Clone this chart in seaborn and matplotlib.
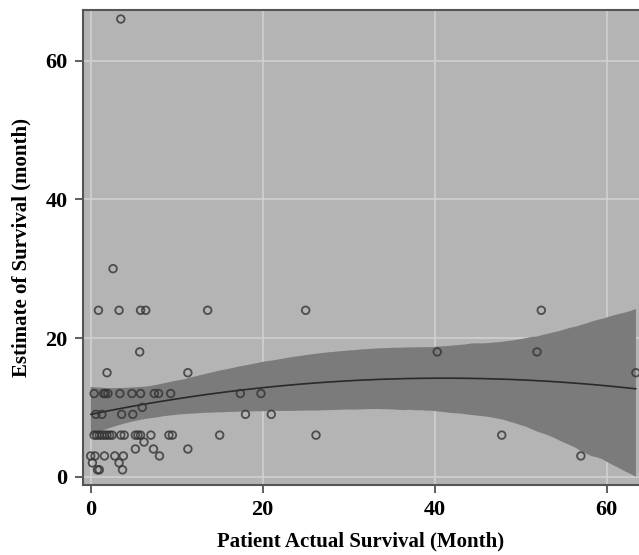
import matplotlib
matplotlib.use("Agg")
import matplotlib.pyplot as plt
import seaborn as sns
import pandas as pd

actual = [3.5,
          2.6,
          0.9, 3.3, 5.8, 6.4, 13.6, 25.0, 52.4,
          5.7, 40.3, 51.9,
          1.9, 11.3, 63.4,
          0.4, 1.5, 1.7, 2.0, 3.4, 4.8, 5.8, 7.4, 7.9, 9.3, 17.4, 19.8,
          6.0,
          0.6, 1.3, 3.6, 4.9, 18.0, 21.0,
          0.4, 0.7, 1.0, 1.3, 1.6, 1.9, 2.2, 2.5, 3.5, 3.9, 5.2, 5.5, 5.8, 7.0, 9.1, 9.5, 15.0, 26.2, 47.8,
          6.2,
          5.2, 7.3, 11.3,
          0.0, 0.5, 1.6, 2.8, 3.8, 8.0, 57.0,
          0.2, 3.3,
          0.8, 1.0, 3.7]
estimate = [66,
            30,
            24, 24, 24, 24, 24, 24, 24,
            18, 18, 18,
            15, 15, 15,
            12, 12, 12, 12, 12, 12, 12, 12, 12, 12, 12, 12,
            10,
            9, 9, 9, 9, 9, 9,
            6, 6, 6, 6, 6, 6, 6, 6, 6, 6, 6, 6, 6, 6, 6, 6, 6, 6, 6,
            5,
            4, 4, 4,
            3, 3, 3, 3, 3, 3, 3,
            2, 2,
            1, 1, 1]

x_ticks = [0, 20, 40, 60]
y_ticks = [0, 20, 40, 60]
x_label = "Patient Actual Survival (Month)"
y_label = "Estimate of Survival (month)"

df = pd.DataFrame({"actual": actual, "estimate": estimate})

sns.set_style("white")
plt.rcParams['font.family'] = ['Liberation Serif', 'DejaVu Serif']

fig = plt.figure(figsize=(6.39, 5.55), dpi=100)
ax = fig.add_axes([0.1294, 0.126, 0.8706, 0.856])
ax.set_facecolor('#b4b4b4')

sns.regplot(data=df, x="actual", y="estimate", order=2, ci=95, n_boot=4000, seed=0, ax=ax,
            scatter_kws=dict(facecolors='none', edgecolors='#333333', s=30,
                             linewidths=1.3, zorder=4),
            line_kws=dict(color='#2a2a2a', lw=1.2, zorder=3))

for coll in ax.collections:
    if coll.__class__.__name__ in ('PolyCollection', 'FillBetweenPolyCollection'):
        coll.set_facecolor('#7b7b7b')
        coll.set_edgecolor('none')
        coll.set_alpha(1)
        coll.set_zorder(2)

ax.set_xlim(-0.93, 63.76)
ax.set_ylim(-1.2, 67.3)
ax.set_xticks(x_ticks)
ax.set_yticks(y_ticks)
ax.grid(True, color='#d0d0d0', lw=1.2)
ax.set_axisbelow(True)

ax.tick_params(axis='both', direction='out', length=6, width=1.2, color='#444444',
               labelsize=16, labelcolor='black', pad=5, bottom=True, left=True)
for lab in ax.get_xticklabels() + ax.get_yticklabels():
    lab.set_fontweight('bold')

for side in ['left', 'bottom', 'top']:
    ax.spines[side].set_color('#555555')
    ax.spines[side].set_linewidth(1.5)
ax.spines['right'].set_visible(False)

ax.set_xlabel(x_label, fontsize=15, fontweight='bold', color='black', labelpad=8)
ax.set_ylabel(y_label, fontsize=15, fontweight='bold', color='black', labelpad=10)

fig.savefig("out.png", dpi=100)
